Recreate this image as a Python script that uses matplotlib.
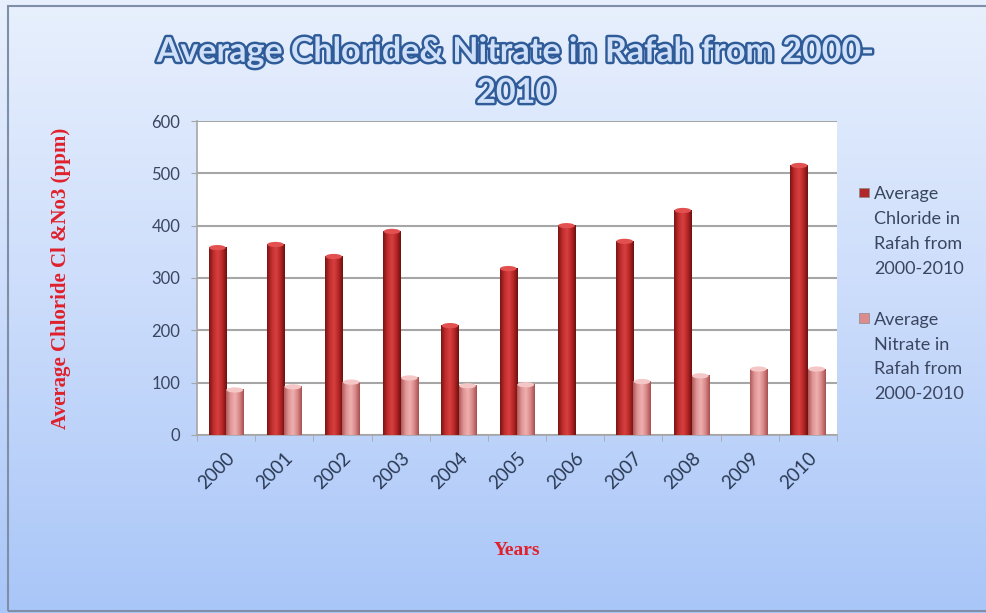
import numpy as np
import matplotlib.pyplot as plt
import matplotlib.patheffects as pe
from matplotlib.colors import LinearSegmentedColormap
from matplotlib.patches import Rectangle, Ellipse

years = ['2000', '2001', '2002', '2003', '2004', '2005', '2006', '2007', '2008', '2009', '2010']
chloride = [358, 364, 341, 389, 209, 318, 400, 370, 429, 0, 515]
nitrate = [86, 92, 101, 109, 94, 96, 0, 102, 113, 126, 126]

chl_label = 'Average\nChloride in\nRafah from\n2000-2010'
nit_label = 'Average\nNitrate in\nRafah from\n2000-2010'

fig = plt.figure(figsize=(9.86, 6.13), dpi=100)

# blue gradient backdrop behind everything
bg = fig.add_axes([0, 0, 1, 1], zorder=-10)
grad = np.linspace(0, 1, 256).reshape(-1, 1)
bg_cmap = LinearSegmentedColormap.from_list('bg', ['#e8f0fd', '#cbdcfb', '#a9c6f8'])
bg.imshow(grad, aspect='auto', cmap=bg_cmap, extent=(0, 1, 0, 1), origin='upper')
bg.add_patch(Rectangle((0.008, 0.003), 1.1, 0.987, fill=False, edgecolor='#7f8fa8', lw=1.5))
bg.set_xlim(0, 1)
bg.set_ylim(0, 1)
bg.axis('off')

ax = fig.add_axes([0.1998, 0.2904, 0.6491, 0.5122])
ax.set_facecolor('white')

chl_cmap = LinearSegmentedColormap.from_list('chl', ['#7a1414', '#c02c2c', '#d84040', '#b82626', '#6e1010'])
nit_cmap = LinearSegmentedColormap.from_list('nit', ['#b05a5a', '#e09595', '#efb0b0', '#d88888', '#a85050'])
shade = np.linspace(0, 1, 64).reshape(1, -1)

x = np.arange(len(years))
w = 0.3


def cylinder(xc, h, cmap, cap):
    if h <= 0:
        return
    ax.imshow(shade, cmap=cmap, aspect='auto', extent=(xc - w / 2, xc + w / 2, 0, h),
              zorder=3, interpolation='bilinear')
    ax.add_patch(Ellipse((xc, h), w * 0.95, 10, facecolor=cap, edgecolor='none', zorder=4))


for i in x:
    cylinder(i - w / 2, chloride[i], chl_cmap, '#e25050')
    cylinder(i + w / 2, nitrate[i], nit_cmap, '#f4c6c6')

ax.set_xlim(-0.5, len(years) - 0.5)
ax.set_ylim(0, 600)
ax.set_yticks(range(0, 601, 100))
ax.yaxis.grid(True, color='#a6a6a6', lw=1.5)
ax.set_axisbelow(True)

ax.set_xticks(x)
ax.set_xticklabels(years, rotation=45, ha='right', rotation_mode='anchor',
                   fontsize=13.5, family='Lato', color='#2b3a55')
ax.set_xticks(np.arange(-0.5, len(years)), minor=True)
ax.tick_params(axis='x', which='major', length=0, pad=10)
ax.tick_params(axis='x', which='minor', length=4, color='#a6a6a6')
ax.tick_params(axis='y', length=4, color='#a6a6a6', labelsize=12, labelcolor='#3a4660', pad=8)
for lbl in ax.get_yticklabels():
    lbl.set_family('Lato')
for s in ['top', 'right']:
    ax.spines[s].set_visible(False)
for s in ['left', 'bottom']:
    ax.spines[s].set_color('#a6a6a6')
    ax.spines[s].set_linewidth(1.2)

ax.set_ylabel('Average Chloride Cl &No3 (ppm)', family='Liberation Serif', fontweight='bold',
              color='#e0202a', fontsize=15, labelpad=58)
ax.set_xlabel('Years', family='Liberation Serif', fontweight='bold', color='#e0202a',
              fontsize=14, labelpad=36)

fig.text(0.523, 0.882, 'Average Chloride& Nitrate in Rafah from 2000-\n2010', ha='center', va='center',
         fontsize=24.5, fontweight='bold', family='Lato', color='#cfe0f8', linespacing=1.35,
         path_effects=[pe.withStroke(linewidth=3.5, foreground='#2f5c98')])

# legend entries
for y0, col, txt in [(0.686, '#b02828', chl_label), (0.481, '#dc8c8c', nit_label)]:
    fig.patches.append(Rectangle((0.8715, y0 - 0.008), 0.0095, 0.016, transform=fig.transFigure,
                                 facecolor=col, edgecolor='#8a8a8a', lw=0.5))
    fig.text(0.8865, y0 + 0.0105, txt, ha='left', va='top', fontsize=13, family='Lato',
             color='#3a4660', linespacing=1.68)

fig.savefig('out.png', dpi=100)
